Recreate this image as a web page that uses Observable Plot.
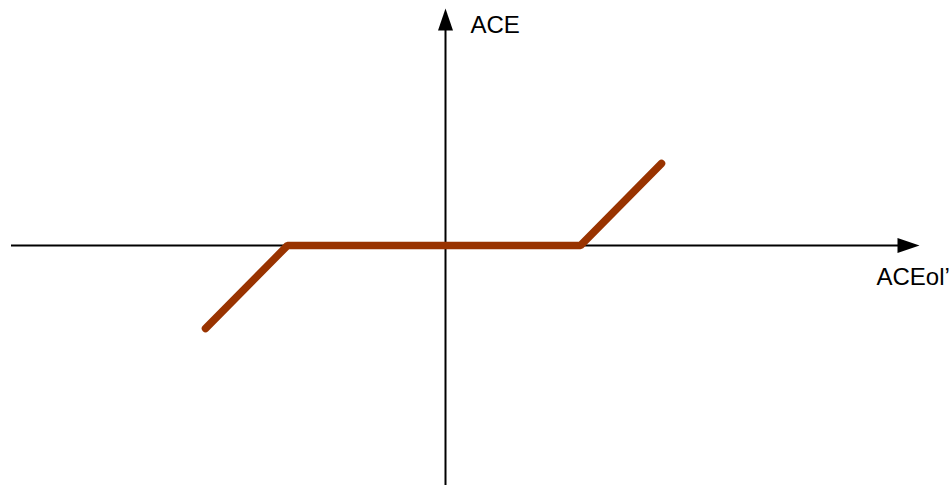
<!DOCTYPE html>
<html>
<head>
<meta charset="utf-8">
<script src="https://cdn.jsdelivr.net/npm/d3@7"></script>
<script src="https://cdn.jsdelivr.net/npm/@observablehq/plot@0.6"></script>
<style>
  html, body { margin: 0; padding: 0; background: #fff; }
  #chart svg { display: block; }
</style>
</head>
<body>
<div id="chart"></div>
<script>
// Piecewise-linear characteristic (dead zone), origin at axes crossing
const curveX = [-240, -158, 135, 216];
const curveY = [-83, 0, 0, 82];

// Axis extents (data units) and labels
const xAxisExtent = [-434, 474];
const yAxisExtent = [-240, 237];
const axisLabels = ["ACE", "ACEol\u2019"];
const labelX = [25, 431];
const labelY = [213, -39];

const curve = curveX.map((x, i) => ({x, y: curveY[i]}));
const labels = axisLabels.map((t, i) => ({t, x: labelX[i], y: labelY[i]}));

const arrowHead = {
  draw(context) {
    context.moveTo(0, 0);
    context.lineTo(7.5, 22);
    context.lineTo(-7.5, 22);
    context.closePath();
  }
};

const chart = Plot.plot({
  width: 949,
  height: 485,
  margin: 0,
  style: {background: "#fff", fontFamily: "'Liberation Sans', Arial, sans-serif"},
  x: {domain: [-445, 504], axis: null},
  y: {domain: [-240, 245], axis: null},
  marks: [
    Plot.ruleY([0], {x1: xAxisExtent[0], x2: xAxisExtent[1] - 20, stroke: "#000", strokeWidth: 2}),
    Plot.ruleX([0], {y1: yAxisExtent[0], y2: yAxisExtent[1] - 20, stroke: "#000", strokeWidth: 2}),
    Plot.dot([{x: xAxisExtent[1], y: 0}], {x: "x", y: "y", symbol: arrowHead, rotate: 90, fill: "#000", stroke: "none"}),
    Plot.dot([{x: 0, y: yAxisExtent[1]}], {x: "x", y: "y", symbol: arrowHead, fill: "#000", stroke: "none"}),
    Plot.line(curve, {x: "x", y: "y", stroke: "#993300", strokeWidth: 7.5, strokeLinecap: "round", strokeLinejoin: "miter"}),
    Plot.text(labels, {x: "x", y: "y", text: "t", textAnchor: "start", lineAnchor: "bottom", fontSize: 24, fill: "#000"})
  ]
});
document.getElementById("chart").appendChild(chart);
</script>
</body>
</html>
